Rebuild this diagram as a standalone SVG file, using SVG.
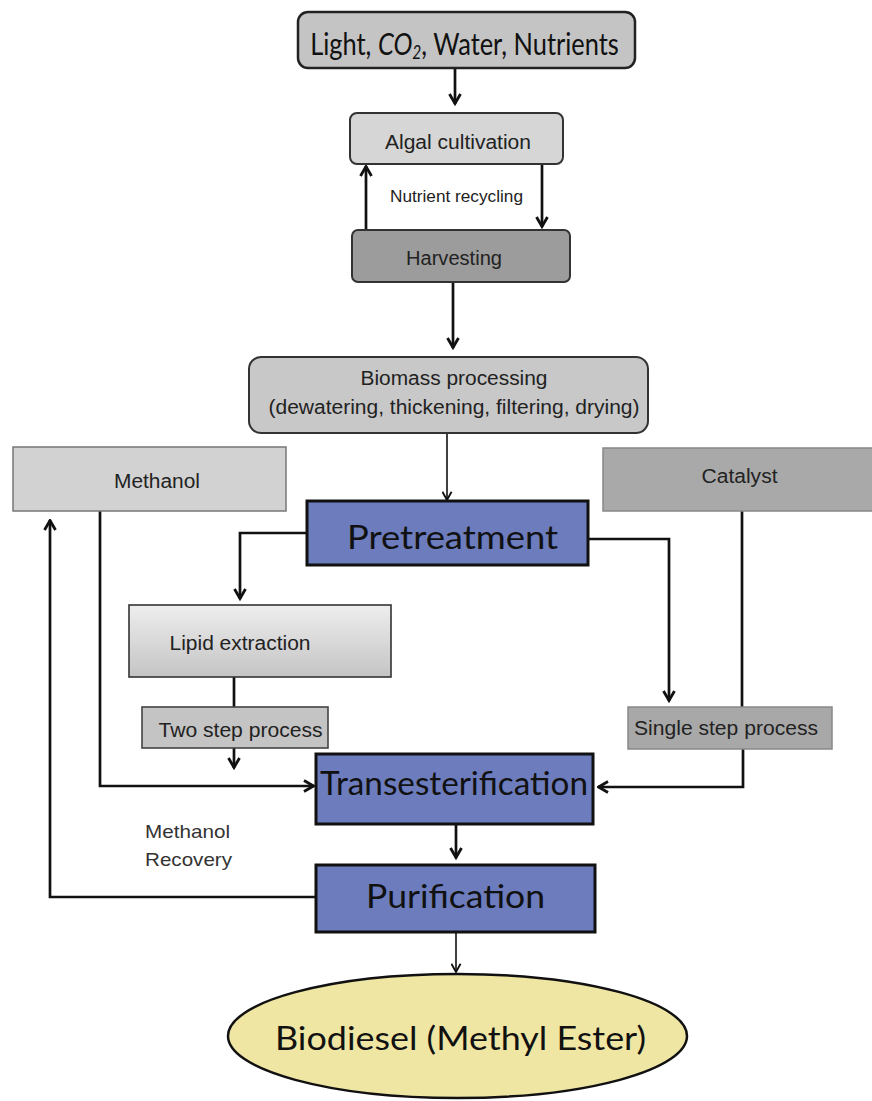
<svg xmlns="http://www.w3.org/2000/svg" width="872" height="1101" viewBox="0 0 872 1101">
<defs>
<marker id="ah" viewBox="0 0 14 14" refX="12.5" refY="7" markerWidth="14" markerHeight="14" markerUnits="userSpaceOnUse" orient="auto">
<path d="M2.5,1.5 L12,7 L2.5,12.5" fill="none" stroke="#111" stroke-width="2.8" stroke-linejoin="miter"/>
</marker>
<marker id="ahs" viewBox="0 0 12 12" refX="11" refY="6" markerWidth="11" markerHeight="11" markerUnits="userSpaceOnUse" orient="auto">
<path d="M2,1 L11,6 L2,11" fill="none" stroke="#111" stroke-width="2"/>
</marker>
<linearGradient id="lipid" x1="0" y1="0" x2="0" y2="1">
<stop offset="0" stop-color="#eeeeee"/>
<stop offset="1" stop-color="#c4c4c4"/>
</linearGradient>
</defs>
<style>
.h{font-family:"Liberation Sans",Arial,sans-serif;fill:#222;text-anchor:middle}
.c{font-family:Lato,"Open Sans",sans-serif;fill:#111;text-anchor:middle}
.conn{fill:none;stroke:#111;stroke-width:2.7}
.thin{fill:none;stroke:#111;stroke-width:1.6}
.blue{fill:#6c7cbd;stroke:#111;stroke-width:3}
</style>
<rect width="872" height="1101" fill="#ffffff"/>

<g id="connectors">
<path class="conn" d="M455,68 V104" marker-end="url(#ah)"/>
<path class="conn" d="M366,230 V166" marker-end="url(#ah)"/>
<path class="conn" d="M542,164 V227" marker-end="url(#ah)"/>
<path class="conn" d="M453,282 V348" marker-end="url(#ah)"/>
<path class="thin" d="M447,433 V500" marker-end="url(#ahs)"/>
<path class="conn" d="M307,533 H240 V599" marker-end="url(#ah)"/>
<path class="conn" d="M588,539 H669 V701" marker-end="url(#ah)"/>
<path class="conn" d="M742,511 V707"/>
<path class="conn" d="M743,749 V787 H598" marker-end="url(#ah)"/>
<path class="conn" d="M234,677 V707"/>
<path class="conn" d="M234,748 V768" marker-end="url(#ah)"/>
<path class="conn" d="M100,511 V786 H314" marker-end="url(#ah)"/>
<path class="conn" d="M316,897 H50 V520" marker-end="url(#ah)"/>
<path class="conn" d="M456,824 V858" marker-end="url(#ah)"/>
<path class="thin" d="M456,932 V972" marker-end="url(#ahs)"/>
</g>

<g id="inputs">
<rect x="298" y="12" width="337" height="56" rx="10" fill="#c4c4c4" stroke="#222" stroke-width="2.5"/>
<text class="c" transform="translate(464.5,55) scale(0.82,1)" x="0" y="0" font-size="31">Light, <tspan font-style="italic">CO</tspan><tspan font-style="italic" font-size="19" dy="4">2</tspan><tspan dy="-4">, Water, Nutrients</tspan></text>
</g>

<g id="algal-cultivation">
<rect x="350" y="113" width="213" height="51" rx="7" fill="#d6d6d6" stroke="#333" stroke-width="2"/>
<text class="h" x="458" y="149" font-size="20" textLength="146" lengthAdjust="spacingAndGlyphs">Algal cultivation</text>
</g>

<g id="nutrient-recycling-label">
<text class="h" x="456.5" y="202" font-size="17" textLength="133" lengthAdjust="spacingAndGlyphs">Nutrient recycling</text>
</g>

<g id="harvesting">
<rect x="352" y="230" width="218" height="52" rx="6" fill="#9c9c9c" stroke="#333" stroke-width="2"/>
<text class="h" x="454" y="265" font-size="20" textLength="96" lengthAdjust="spacingAndGlyphs">Harvesting</text>
</g>

<g id="biomass-processing">
<rect x="249" y="357" width="399" height="76" rx="12" fill="#c8c8c8" stroke="#333" stroke-width="2"/>
<text class="h" x="454" y="385" font-size="20" textLength="187" lengthAdjust="spacingAndGlyphs">Biomass processing</text>
<text class="h" x="454" y="414" font-size="20" textLength="371" lengthAdjust="spacingAndGlyphs">(dewatering, thickening, filtering, drying)</text>
</g>

<g id="methanol">
<rect x="13" y="447" width="273" height="64" fill="#d2d2d2" stroke="#777" stroke-width="1.5"/>
<text class="h" x="157" y="488" font-size="20" textLength="86" lengthAdjust="spacingAndGlyphs">Methanol</text>
</g>

<g id="catalyst">
<rect x="603" y="448" width="275" height="63" fill="#a9a9a9" stroke="#888" stroke-width="1.5"/>
<text class="h" x="739.5" y="483" font-size="20" textLength="76" lengthAdjust="spacingAndGlyphs">Catalyst</text>
</g>

<g id="pretreatment">
<rect class="blue" x="307" y="501" width="281" height="64"/>
<text class="c" x="452.5" y="549" font-size="33" textLength="211" lengthAdjust="spacingAndGlyphs">Pretreatment</text>
</g>

<g id="lipid-extraction">
<rect x="129" y="605" width="262" height="72" fill="url(#lipid)" stroke="#333" stroke-width="1.6"/>
<text class="h" x="240" y="650" font-size="20" textLength="141" lengthAdjust="spacingAndGlyphs">Lipid extraction</text>
</g>

<g id="two-step-process">
<rect x="142" y="707" width="186" height="41" fill="#c4c4c4" stroke="#444" stroke-width="1.6"/>
<text class="h" x="240.5" y="737" font-size="20" textLength="164" lengthAdjust="spacingAndGlyphs">Two step process</text>
</g>

<g id="single-step-process">
<rect x="628" y="707" width="204" height="42" fill="#a8a8a8" stroke="#888" stroke-width="1.5"/>
<text class="h" x="726" y="735" font-size="20" textLength="184" lengthAdjust="spacingAndGlyphs">Single step process</text>
</g>

<g id="transesterification">
<rect class="blue" x="316" y="754" width="277" height="70"/>
<text class="c" x="454" y="795" font-size="32" textLength="268" lengthAdjust="spacingAndGlyphs">Transesterification</text>
</g>

<g id="methanol-recovery-label">
<text class="h" x="145" y="838" font-size="19" style="text-anchor:start;fill:#333" textLength="85" lengthAdjust="spacingAndGlyphs">Methanol</text>
<text class="h" x="145" y="866" font-size="19" style="text-anchor:start;fill:#333" textLength="87" lengthAdjust="spacingAndGlyphs">Recovery</text>
</g>

<g id="purification">
<rect class="blue" x="316" y="865" width="279" height="67"/>
<text class="c" x="455.5" y="908" font-size="33" textLength="179" lengthAdjust="spacingAndGlyphs">Purification</text>
</g>

<g id="biodiesel">
<ellipse cx="457.5" cy="1036" rx="229.5" ry="62" fill="#efe6a4" stroke="#111" stroke-width="2.5"/>
<text class="c" x="460.5" y="1050" font-size="33" textLength="371" lengthAdjust="spacingAndGlyphs">Biodiesel (Methyl Ester)</text>
</g>
</svg>
